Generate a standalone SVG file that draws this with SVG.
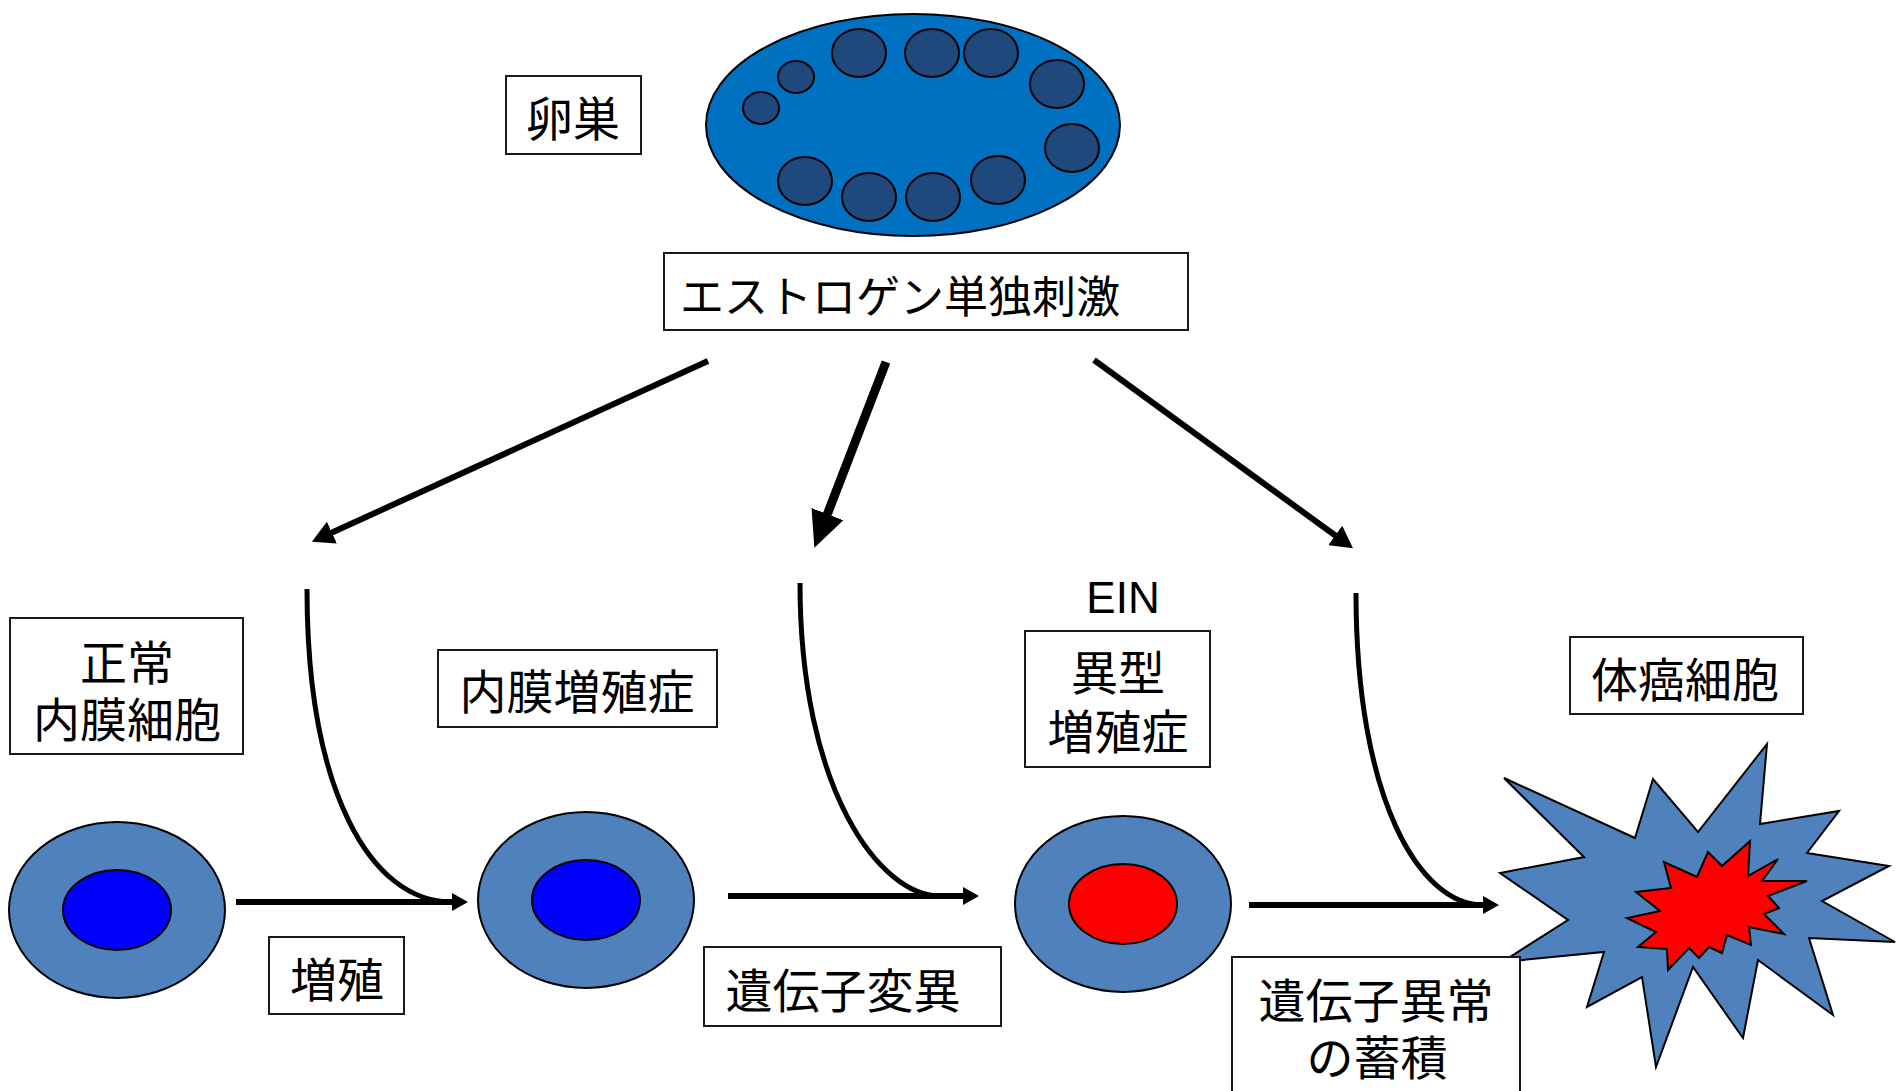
<svg xmlns="http://www.w3.org/2000/svg" width="1897" height="1091" viewBox="0 0 1897 1091">
  <style>
    .box { fill: #ffffff; stroke: #1a1a1a; stroke-width: 2; }
    .lbl { font-family: "Noto Sans CJK JP", "Noto Sans", sans-serif; font-size: 47px; fill: #000000; text-anchor: middle; }
    .ein { font-family: "Liberation Sans", Arial, sans-serif; font-size: 44px; fill: #000000; text-anchor: middle; }
    .follicle { fill: #1F497D; stroke: #000000; stroke-width: 2; }
    .cell { fill: #4F81BD; stroke: #000000; stroke-width: 2; }
    .nucleus-blue { fill: #0000FF; stroke: #000000; stroke-width: 2; }
    .nucleus-red { fill: #FF0000; stroke: #000000; stroke-width: 2; }
    .conn { fill: none; stroke: #000000; }
  </style>
  <defs>
    <marker id="headS" markerUnits="userSpaceOnUse" viewBox="0 -12 22 24" markerWidth="22" markerHeight="24" refX="1" refY="0" orient="auto">
      <path d="M0,-12 L22,0 L0,12 z" fill="#000000"/>
    </marker>
    <marker id="headL" markerUnits="userSpaceOnUse" viewBox="0 -17 36 34" markerWidth="36" markerHeight="34" refX="1" refY="0" orient="auto">
      <path d="M0,-17 L36,0 L0,17 z" fill="#000000"/>
    </marker>
    <marker id="headH" markerUnits="userSpaceOnUse" viewBox="0 -9 16 18" markerWidth="16" markerHeight="18" refX="1" refY="0" orient="auto">
      <path d="M0,-9 L16,0 L0,9 z" fill="#000000"/>
    </marker>
  </defs>

  <!-- ovary -->
  <g id="ovary">
    <ellipse cx="913" cy="125" rx="207" ry="111" fill="#0070C0" stroke="#000000" stroke-width="2"/>
    <ellipse class="follicle" cx="761" cy="108" rx="18" ry="16"/>
    <ellipse class="follicle" cx="796" cy="77" rx="18" ry="16"/>
    <ellipse class="follicle" cx="859" cy="53" rx="27" ry="24"/>
    <ellipse class="follicle" cx="932" cy="53" rx="27" ry="24"/>
    <ellipse class="follicle" cx="991" cy="53" rx="27" ry="24"/>
    <ellipse class="follicle" cx="1057" cy="84" rx="27" ry="24"/>
    <ellipse class="follicle" cx="1072" cy="148" rx="27" ry="24"/>
    <ellipse class="follicle" cx="805" cy="181" rx="27" ry="24"/>
    <ellipse class="follicle" cx="869" cy="197" rx="27" ry="24"/>
    <ellipse class="follicle" cx="933" cy="197" rx="27" ry="24"/>
    <ellipse class="follicle" cx="998" cy="180" rx="27" ry="24"/>
  </g>

  <g id="label-ovary">
    <rect class="box" x="506" y="76" width="135" height="78"/>
    <text class="lbl" x="573" y="136">卵巣</text>
  </g>

  <g id="label-estrogen">
    <rect class="box" x="664" y="253" width="524" height="77"/>
    <text class="lbl" x="900" y="313" style="font-size:44px">エストロゲン単独刺激</text>
  </g>

  <!-- cells -->
  <g id="cell-normal">
    <ellipse class="cell" cx="117" cy="910" rx="108" ry="88"/>
    <ellipse class="nucleus-blue" cx="117" cy="910" rx="54" ry="40"/>
  </g>
  <g id="cell-hyperplasia">
    <ellipse class="cell" cx="586" cy="900" rx="108" ry="88"/>
    <ellipse class="nucleus-blue" cx="586" cy="900" rx="54" ry="40"/>
  </g>
  <g id="cell-atypical">
    <ellipse class="cell" cx="1123" cy="904" rx="108" ry="88"/>
    <ellipse class="nucleus-red" cx="1123" cy="904" rx="54" ry="40"/>
  </g>
  <g id="cell-cancer">
    <polygon fill="#4F81BD" stroke="#000000" stroke-width="2" points="1504,778 1635,838 1653,779 1698,832 1767,744 1760,824 1839,811 1807,853 1889,866 1822,901 1895,942 1809,938 1833,1015 1758,960 1743,1038 1693,967 1656,1067 1642,977 1587,1007 1604,952 1502,962 1568,920 1500,873 1584,857"/>
    <polygon fill="#FF0000" stroke="#000000" stroke-width="2" points="1750,841 1748,876 1778,859 1762,881 1807,881 1768,896 1779,908 1764,914 1784,934 1749,927 1751,945 1727,935 1722,953 1709,947 1699,958 1689,948 1668,970 1667,949 1638,947 1656,932 1627,918 1660,911 1636,892 1671,888 1664,862 1697,877 1708,852 1722,866"/>
  </g>

  <!-- labels -->
  <g id="label-normal">
    <rect class="box" x="10" y="618" width="233" height="136"/>
    <text class="lbl"><tspan x="127" y="680">正常</tspan><tspan x="127" y="737">内膜細胞</tspan></text>
  </g>
  <g id="label-hyperplasia">
    <rect class="box" x="438" y="650" width="279" height="77"/>
    <text class="lbl" x="577" y="709">内膜増殖症</text>
  </g>
  <g id="label-proliferation">
    <rect class="box" x="269" y="937" width="135" height="77"/>
    <text class="lbl" x="337" y="997">増殖</text>
  </g>
  <g id="label-ein">
    <text class="ein" x="1123" y="613">EIN</text>
  </g>
  <g id="label-atypical">
    <rect class="box" x="1025" y="631" width="185" height="136"/>
    <text class="lbl"><tspan x="1118" y="690">異型</tspan><tspan x="1118" y="749">増殖症</tspan></text>
  </g>
  <g id="label-mutation">
    <rect class="box" x="704" y="947" width="297" height="79"/>
    <text class="lbl" x="843" y="1008">遺伝子変異</text>
  </g>
  <g id="label-cancer">
    <rect class="box" x="1570" y="637" width="233" height="77"/>
    <text class="lbl" x="1685" y="697">体癌細胞</text>
  </g>
  <g id="label-accumulation">
    <rect class="box" x="1232" y="957" width="288" height="150"/>
    <text class="lbl"><tspan x="1376" y="1018">遺伝子異常</tspan><tspan x="1377" y="1075">の蓄積</tspan></text>
  </g>

  <!-- connectors -->
  <g id="connectors">
    <line class="conn" stroke-width="6" x1="708" y1="361" x2="331" y2="533" marker-end="url(#headS)"/>
    <line class="conn" stroke-width="9" x1="886" y1="362" x2="827" y2="515" marker-end="url(#headL)"/>
    <line class="conn" stroke-width="6" x1="1094" y1="360" x2="1336" y2="536" marker-end="url(#headS)"/>

    <line class="conn" stroke-width="6" x1="236" y1="902" x2="453" y2="902" marker-end="url(#headH)"/>
    <line class="conn" stroke-width="6" x1="728" y1="896" x2="964" y2="896" marker-end="url(#headH)"/>
    <line class="conn" stroke-width="6" x1="1249" y1="905" x2="1484" y2="905" marker-end="url(#headH)"/>

    <path class="conn" stroke-width="5" d="M307,589 C307,790 370,902 452,902"/>
    <path class="conn" stroke-width="5" d="M800,583 C800,790 880,896 940,896"/>
    <path class="conn" stroke-width="5" d="M1356,593 C1356,800 1420,905 1483,905"/>
  </g>
</svg>
